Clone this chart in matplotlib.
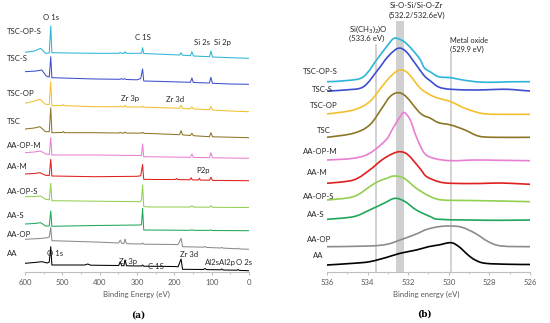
import matplotlib
matplotlib.use('Agg')
import matplotlib.pyplot as plt
from matplotlib.ticker import MultipleLocator
from matplotlib.path import Path
from matplotlib.patches import PathPatch

plt.rcParams['font.family'] = ['Lato', 'DejaVu Sans']

# ---------------- survey spectra (panel a): binding energy (eV), intensity above own end value
samples = ['TSC-OP-S', 'TSC-S', 'TSC-OP', 'TSC', 'AA-OP-M', 'AA-M', 'AA-OP-S', 'AA-S', 'AA-OP', 'AA']
colors = ['#2db4d9', '#3d4fd0', '#f3c12e', '#8c7626', '#e87fd2', '#e0201e', '#92d050', '#1fa85a', '#8c8c8c', '#000000']

tsc_op_s_ev = [600, 575, 558, 545, 535, 531, 528, 480, 412, 348, 345, 342, 335, 332, 329, 288, 285, 282,
               250, 186, 182, 178, 157, 153, 149, 106, 102, 98, 50, 0]
tsc_op_s_int = [6.0, 7.3, 10.0, 5.0, 5.3, 32.3, 5.6, 5.3, 5.0, 5.0, 6.0, 5.0, 5.0, 6.6, 5.0, 5.0, 10.6, 4.8,
                4.3, 3.3, 5.6, 3.1, 2.6, 6.6, 2.3, 1.6, 7.3, 1.3, 0.6, 0]

tsc_s_ev = [600, 570, 555, 543, 535, 531, 528, 412, 345, 342, 338, 332, 329, 300, 290, 285, 282, 250,
            157, 153, 149, 106, 102, 98, 50, 0]
tsc_s_int = [12.6, 13.3, 14.3, 8.3, 7.3, 27.6, 6.6, 5.3, 5.0, 5.7, 5.0, 5.5, 4.8, 4.5, 5.8, 15.3, 3.3, 3.0,
             2.0, 6.3, 1.8, 1.3, 7.0, 1.0, 0.3, 0]

tsc_op_ev = [600, 575, 560, 545, 535, 531, 528, 500, 497, 494, 412, 348, 345, 342, 335, 332, 329, 288, 285, 282,
             250, 186, 182, 178, 157, 153, 149, 106, 102, 98, 50, 0]
tsc_op_int = [8.4, 10.7, 12.4, 7.4, 7.2, 30.0, 6.0, 6.2, 7.2, 6.0, 5.0, 4.9, 5.7, 4.9, 4.9, 6.4, 4.7, 4.7, 5.7, 4.5,
              4.2, 3.5, 6.4, 3.2, 2.9, 5.0, 2.7, 2.0, 5.4, 1.7, 0.7, 0]

tsc_ev = tsc_op_ev
tsc_int = [8.7, 9.7, 11.0, 6.0, 6.0, 30.0, 5.0, 5.2, 6.2, 5.0, 5.0, 4.7, 5.4, 4.7, 4.7, 5.7, 4.6, 4.6, 5.4, 4.4,
           4.0, 3.0, 7.0, 2.8, 2.2, 4.4, 2.0, 1.0, 5.0, 0.9, 0.5, 0]

aa_op_m_ev = [600, 575, 558, 545, 535, 531, 528, 412, 292, 288, 285, 282, 157, 153, 149, 106, 102, 98, 0]
aa_op_m_int = [5.6, 6.3, 7.3, 4.3, 3.8, 20.6, 3.3, 3.3, 2.8, 2.6, 14.3, 1.6, 1.0, 4.3, 0.9, 0.6, 5.6, 0.5, 0]

aa_m_ev = [600, 575, 560, 545, 535, 531, 528, 412, 300, 290, 285, 282, 250, 197, 194, 191, 158, 155, 152,
           136, 133, 130, 106, 102, 98, 0]
aa_m_int = [6.7, 7.2, 8.0, 5.4, 5.2, 21.4, 4.7, 4.0, 4.4, 4.9, 16.2, 1.4, 1.2, 1.2, 2.2, 1.1, 0.9, 3.0, 0.8,
            0.7, 2.4, 0.6, 0.5, 3.4, 0.3, 0]

aa_op_s_ev = [600, 575, 558, 545, 535, 531, 528, 412, 292, 288, 285, 282, 270, 157, 153, 149, 106, 102, 98, 0]
aa_op_s_int = [10.8, 11.0, 11.5, 8.2, 7.7, 24.2, 6.8, 6.3, 5.8, 7.5, 22.5, 1.0, 0.5, 0.5, 1.8, 0.4, 0.3, 1.8, 0.2, 0]

aa_s_ev = [600, 575, 558, 545, 535, 531, 528, 412, 292, 288, 285, 282, 157, 153, 149, 106, 102, 98, 0]
aa_s_int = [6.7, 7.2, 8.0, 4.7, 4.7, 19.7, 4.4, 5.2, 5.7, 6.0, 22.4, 0.7, 0.4, 0.9, 0.4, 0.3, 0.8, 0.2, 0]

aa_op_ev = [600, 560, 540, 535, 531, 528, 412, 349, 345, 341, 335, 332, 328, 288, 285, 282, 200, 190, 182, 178,
            122, 118, 114, 76, 73, 70, 32, 29, 26, 0]
aa_op_int = [10.0, 10.8, 11.6, 12.3, 22.0, 8.6, 7.3, 6.3, 9.3, 6.0, 5.8, 10.3, 5.6, 5.3, 6.3, 5.1, 4.8, 4.6, 11.0, 2.6,
             2.1, 2.8, 1.9, 1.3, 1.9, 1.2, 0.5, 1.1, 0.4, 0]

aa_ev = [600, 575, 555, 540, 535, 531, 528, 440, 432, 424, 349, 345, 341, 335, 332, 328, 288, 285, 282, 200, 190,
         182, 178, 122, 118, 114, 76, 73, 70, 32, 29, 26, 0]
aa_int = [7.4, 8.2, 9.0, 7.7, 8.7, 24.0, 5.7, 5.7, 6.7, 5.5, 5.2, 9.0, 5.0, 5.0, 10.7, 4.9, 4.7, 5.7, 4.5, 4.2, 3.9,
          11.7, 1.4, 1.2, 2.2, 1.1, 0.9, 1.7, 0.7, 0.5, 1.2, 0.3, 0]

survey_ev = [tsc_op_s_ev, tsc_s_ev, tsc_op_ev, tsc_ev, aa_op_m_ev, aa_m_ev, aa_op_s_ev, aa_s_ev, aa_op_ev, aa_ev]
survey_int = [tsc_op_s_int, tsc_s_int, tsc_op_int, tsc_int, aa_op_m_int, aa_m_int, aa_op_s_int, aa_s_int,
              aa_op_int, aa_int]
survey_offset = [213.7, 187.7, 160.3, 134.3, 113.7, 91.3, 64.5, 41.3, 22.7, 1.3]

# ---------------- O 1s high resolution spectra (panel b)
o_tsc_op_s_ev = [536, 535.0, 534.2, 533.5, 533.0, 532.7, 532.4, 532.1, 531.7, 531.4, 531.2, 530.9, 530.5,
                 529.9, 529.5, 528.7, 527.9, 527.0, 526]
o_tsc_op_s_int = [0, 1.2, 5.0, 23.4, 36.7, 43.4, 42.2, 38.4, 29.7, 21.7, 13.7, 9.7, 5.0, 4.0, 2.4, 0, -0.6, -0.1, 0]

o_tsc_s_ev = [536, 535.0, 534.2, 533.5, 533.0, 532.5, 532.1, 531.6, 531.2, 530.9, 530.5, 529.9, 528.7, 527.8,
              527.1, 526.5, 526]
o_tsc_s_int = [0, 1.2, 4.3, 21.0, 34.3, 42.7, 39.3, 26.0, 15.0, 10.0, 4.0, 1.7, 1.0, 1.5, 1.7, 0.8, 0]

o_tsc_op_ev = [536, 534.7, 533.9, 533.3, 532.8, 532.4, 532.0, 531.4, 530.9, 530.5, 529.9, 529.2, 528.4, 527.6, 526]
o_tsc_op_int = [0.3, 4.3, 12.6, 27.6, 39.3, 44.3, 41.0, 26.0, 19.3, 16.0, 12.6, 6.0, 1.0, 0, 0]

o_tsc_ev = [536, 534.7, 533.9, 533.3, 532.9, 532.5, 532.1, 531.4, 530.9, 530.5, 529.9, 529.2, 528.55, 527.8, 526]
o_tsc_int = [0, 4.0, 12.3, 29.0, 40.6, 44.6, 40.6, 24.0, 19.0, 14.6, 12.3, 7.3, 1.3, 0, 0]

o_aa_op_m_ev = [536, 534.7, 533.9, 533.1, 532.8, 532.4, 532.2, 531.9, 531.6, 531.2, 530.7, 529.9, 528.7, 527.5, 526]
o_aa_op_m_int = [0.7, 2.4, 7.4, 20.7, 30.7, 44.0, 48.2, 40.7, 24.0, 7.4, 2.2, 0, 0.7, 0.4, 0]

o_aa_m_ev = [536, 534.7, 533.9, 533.3, 532.8, 532.4, 532.0, 531.4, 531.1, 530.5, 529.9, 528.5, 527.5, 526.5, 526]
o_aa_m_int = [1.0, 4.3, 14.3, 24.3, 30.3, 32.6, 29.3, 15.3, 7.8, 2.6, 1.0, 0.8, 1.3, 0.5, 0]

o_aa_op_s_ev = [536, 534.7, 533.9, 533.5, 533.05, 532.7, 532.2, 531.6, 530.9, 530.3, 529, 527.5, 526]
o_aa_op_s_int = [1.7, 5.0, 15.0, 20.0, 23.4, 25.7, 23.4, 13.4, 5.0, 1.7, 1.2, 0.7, 0]

o_aa_s_ev = [536, 534.7, 533.9, 533.2, 532.65, 532.15, 531.6, 530.9, 530.5, 529, 527.5, 526]
o_aa_s_int = [0.7, 3.3, 10.0, 16.7, 21.7, 18.3, 10.0, 3.3, 0.7, 0, -0.3, 0]

o_aa_op_ev = [536, 533.9, 533.05, 532.4, 531.6, 531.1, 530.5, 529.9, 529.35, 528.7, 528.05, 527.4, 526]
o_aa_op_int = [0, 0.7, 2.4, 6.7, 12.7, 17.2, 20.0, 20.7, 19.4, 13.4, 5.0, 0.7, 0]

o_aa_ev = [536, 534.7, 533.9, 533.05, 532.4, 531.6, 531.0, 530.5, 529.9, 529.5, 529.05, 528.7, 528.2, 527.0, 526]
o_aa_int = [-0.5, 1.2, 2.8, 7.2, 11.2, 14.5, 17.8, 19.5, 21.8, 17.8, 9.5, 4.5, 1.2, 0.2, 0]

o1s_ev = [o_tsc_op_s_ev, o_tsc_s_ev, o_tsc_op_ev, o_tsc_ev, o_aa_op_m_ev, o_aa_m_ev, o_aa_op_s_ev, o_aa_s_ev,
          o_aa_op_ev, o_aa_ev]
o1s_int = [o_tsc_op_s_int, o_tsc_s_int, o_tsc_op_int, o_tsc_int, o_aa_op_m_int, o_aa_m_int, o_aa_op_s_int,
           o_aa_s_int, o_aa_op_int, o_aa_int]
o1s_offset = [190.3, 181.0, 157.7, 134.7, 111.3, 87.7, 70.3, 52.0, 25.3, 7.5]

# ---------------- figure, laid out in pixels of the 550x323 image
W, H = 550, 323
fig = plt.figure(figsize=(W / 100, H / 100), dpi=100)


def box(x0, x1, y_top, y_bot):
    return [x0 / W, 1 - y_bot / H, (x1 - x0) / W, (y_bot - y_top) / H]


def put(x, y, s, **kw):
    kw.setdefault('fontsize', 5.6)
    kw.setdefault('color', '#262626')
    kw.setdefault('va', 'center')
    fig.text(x / W, 1 - y / H, s, **kw)


def smooth_path(xs, ys):
    # Catmull-Rom style cubic Bezier through the measured points (Excel "smoothed line" look)
    pts = list(zip(xs, ys))
    verts = [pts[0]]
    codes = [Path.MOVETO]
    for i in range(len(pts) - 1):
        p0 = pts[i - 1] if i > 0 else pts[i]
        p1, p2 = pts[i], pts[i + 1]
        p3 = pts[i + 2] if i + 2 < len(pts) else pts[i + 1]
        c1 = (p1[0] + (p2[0] - p0[0]) / 6, p1[1] + (p2[1] - p0[1]) / 6)
        c2 = (p2[0] - (p3[0] - p1[0]) / 6, p2[1] - (p3[1] - p1[1]) / 6)
        verts += [c1, c2, p2]
        codes += [Path.CURVE4] * 3
    return Path(verts, codes)


def style_axis(ax):
    for side in ['left', 'right', 'top']:
        ax.spines[side].set_visible(False)
    ax.spines['bottom'].set_color('#bfbfbf')
    ax.spines['bottom'].set_linewidth(0.8)
    ax.set_yticks([])
    ax.tick_params(axis='x', which='both', direction='out', color='#bfbfbf', labelsize=5.6,
                   labelcolor='#595959', pad=2.5)
    ax.tick_params(axis='x', which='major', length=2.5)
    ax.tick_params(axis='x', which='minor', length=1.5)
    ax.set_ylim(0, 267)


# panel (a)
ax1 = fig.add_axes(box(25, 249, 5, 272))
for ev, inten, off, c in zip(survey_ev, survey_int, survey_offset, colors):
    ax1.plot(ev, [v + off for v in inten], color=c, lw=0.75, solid_joinstyle='round')
ax1.set_xlim(600, 0)
ax1.xaxis.set_major_locator(MultipleLocator(100))
ax1.xaxis.set_minor_locator(MultipleLocator(50))
style_axis(ax1)

# panel (b)
ax2 = fig.add_axes(box(327, 530, 5, 272))
ax2.axvspan(532.2, 532.6, ymin=0, ymax=0.94, color='#d0d0d0', lw=0, zorder=0)
ax2.axvline(533.6, ymin=0, ymax=0.85, color='#c8c8c8', lw=1.1, zorder=0)
ax2.axvline(529.9, ymin=0, ymax=0.815, color='#c8c8c8', lw=1.1, zorder=0)
for ev, inten, off, c in zip(o1s_ev, o1s_int, o1s_offset, colors):
    path = smooth_path(ev, [v + off for v in inten])
    ax2.add_patch(PathPatch(path, fill=False, edgecolor=c, lw=1.2, capstyle='round', joinstyle='round'))
ax2.set_xlim(536, 526)
ax2.xaxis.set_major_locator(MultipleLocator(2))
ax2.xaxis.set_minor_locator(MultipleLocator(1))
style_axis(ax2)

# sample labels
left_label_y = [31.7, 58.3, 93.3, 121.7, 145.7, 166.7, 191, 216, 234.3, 253.3]
for s, y in zip(samples, left_label_y):
    put(7, y, s)
right_label_xy = [(303.3, 71.7), (312.3, 89), (310, 106), (316.7, 130.7), (302.7, 151),
                  (307.3, 172.7), (303.3, 196.7), (306.7, 214.3), (307.3, 240), (313.3, 256)]
for s, (x, y) in zip(samples, right_label_xy):
    put(x, y, s)

# peak assignments, panel (a)
put(50.7, 17.3, 'O 1s', ha='center')
put(143.3, 37.3, 'C 1S', ha='center')
put(201.7, 42.7, 'Si 2s', ha='center')
put(222.7, 42.7, 'Si 2p', ha='center')
put(130, 99, 'Zr 3p', ha='center')
put(175, 99, 'Zr 3d', ha='center')
put(203.3, 170.7, 'P2p', ha='center')
put(55.5, 254, 'O 1s', ha='center')
put(128.3, 261.7, 'Zr 3p', ha='center')
put(156, 266.7, 'C 1S', ha='center')
put(189.3, 254.3, 'Zr 3d', ha='center')
put(220, 262.7, 'Al2sAl2p', ha='center')
put(244.3, 262.7, 'O 2s', ha='center')

# assignments, panel (b)
put(416.7, 6, 'Si-O-Si/Si-O-Zr', ha='center')
put(416.7, 15.7, '(532.2/532.6eV)', ha='center')
put(349, 29.3, r'Si(CH$_3$)$_2$)O', ha='left')
put(349, 38.5, '(533.6 eV)', ha='left')
put(450, 40.7, 'Metal oxide', ha='left', fontsize=5.3)
put(450, 49.5, '(529.9 eV)', ha='left', fontsize=5.3)

# axis titles and panel tags
put(136.7, 294, 'Binding Energy (eV)', ha='center', color='#595959')
put(426.7, 294.3, 'Binding energy (eV)', ha='center', color='#595959')
put(138, 315, '(a)', ha='center', family='DejaVu Serif', fontweight='bold', fontsize=6.3, color='black')
put(424.3, 314, '(b)', ha='center', family='DejaVu Serif', fontweight='bold', fontsize=6.3, color='black')

fig.savefig('out.png', dpi=100)
